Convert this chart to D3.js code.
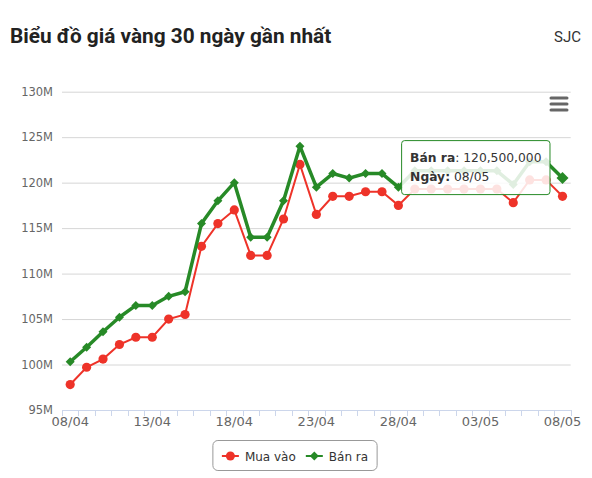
<!DOCTYPE html>
<html>
<head>
<meta charset="utf-8">
<script src="https://cdn.jsdelivr.net/npm/d3@7/dist/d3.min.js"></script>
<style>
  body { margin: 0; background: #fff; }
  svg text { font-family: "DejaVu Sans", Verdana, sans-serif; }
</style>
</head>
<body>
<svg id="chart" width="592" height="478"></svg>
<script>
// gia vang SJC, trieu dong / luong
var dates = ["08/04","09/04","10/04","11/04","12/04","13/04","14/04","15/04","16/04","17/04",
             "18/04","19/04","20/04","21/04","22/04","23/04","24/04","25/04","26/04","27/04",
             "28/04","29/04","30/04","01/05","02/05","03/05","04/05","05/05","06/05","07/05","08/05"];
var buyPrices = [97.8, 99.7, 100.6, 102.2, 103, 103, 105, 105.5, 113, 115.5,
                 117, 112, 112, 116, 122, 116.5, 118.5, 118.5, 119, 119,
                 117.5, 119.3, 119.3, 119.3, 119.3, 119.3, 119.3, 117.8, 120.3, 120.3, 118.5];
var sellPrices = [100.3, 101.9, 103.6, 105.2, 106.5, 106.5, 107.5, 108, 115.5, 118,
                  120, 114, 114, 118, 124, 119.5, 121, 120.5, 121, 121,
                  119.5, 121.3, 121.3, 121.3, 121.3, 121.3, 121.3, 119.8, 122.3, 122.3, 120.5];
var yTicks = [95, 100, 105, 110, 115, 120, 125, 130];
var labelStep = 5;
var seriesNames = ["Mua vào", "Bán ra"];
var seriesColors = ["#ee3329", "#278a27"];
var hoverIndex = 30; // diem dang hover (Ban ra)

var svg = d3.select("#chart");

var plot = {left: 62, right: 570.7, top: 91.7, bottom: 410};

var x = d3.scalePoint()
    .domain(dates)
    .range([plot.left, plot.right])
    .padding(0.5);

var y = d3.scaleLinear()
    .domain([95, 130])
    .range([plot.bottom, plot.top]);

// title
svg.append("text")
    .attr("x", 10)
    .attr("y", 43)
    .style("font-family", "Roboto, sans-serif")
    .style("font-weight", "bold")
    .style("font-size", "20.8px")
    .attr("fill", "#222")
    .text("Biểu đồ giá vàng 30 ngày gần nhất");

svg.append("text")
    .attr("x", 581)
    .attr("y", 42)
    .attr("text-anchor", "end")
    .style("font-family", "Roboto, sans-serif")
    .style("font-size", "15px")
    .attr("fill", "#333")
    .text("SJC");

// grid + y labels
var yAxis = d3.axisLeft(y)
    .tickValues(yTicks)
    .tickSize(-(plot.right - plot.left))
    .tickPadding(9)
    .tickFormat(function(d) { return d + "M"; });

var gy = svg.append("g")
    .attr("transform", "translate(" + plot.left + ",0)")
    .call(yAxis);
gy.select(".domain").remove();
gy.selectAll(".tick line").attr("stroke", "#d6d6d6");
gy.selectAll(".tick text")
    .attr("fill", "#666")
    .style("font-size", "11.5px");

// x axis, ticks between categories
var step = x.step();
var gx = svg.append("g");
gx.append("line")
    .attr("x1", plot.left).attr("x2", plot.right)
    .attr("y1", plot.bottom + 0.5).attr("y2", plot.bottom + 0.5)
    .attr("stroke", "#ccd6eb");
gx.selectAll(".xtick")
    .data(d3.range(dates.length + 1))
    .enter().append("line")
    .attr("class", "xtick")
    .attr("x1", function(i) { return Math.round(plot.left + i * step) + 0.5; })
    .attr("x2", function(i) { return Math.round(plot.left + i * step) + 0.5; })
    .attr("y1", plot.bottom)
    .attr("y2", plot.bottom + 6)
    .attr("stroke", "#ccd6eb");
gx.selectAll(".xlabel")
    .data(dates.filter(function(d, i) { return i % labelStep === 0; }))
    .enter().append("text")
    .attr("class", "xlabel")
    .attr("x", function(d) { return x(d); })
    .attr("y", 426)
    .attr("text-anchor", "middle")
    .attr("fill", "#666")
    .style("font-size", "13px")
    .text(function(d) { return d; });

// series
var line = function(values) {
    return d3.line()
        .x(function(v, i) { return x(dates[i]); })
        .y(function(v) { return y(v); })(values);
};

function diamond(cx, cy, r) {
    return "M" + cx + "," + (cy - r) + "L" + (cx + r) + "," + cy +
           "L" + cx + "," + (cy + r) + "L" + (cx - r) + "," + cy + "Z";
}

svg.append("path")
    .attr("d", line(buyPrices))
    .attr("fill", "none")
    .attr("stroke", seriesColors[0])
    .attr("stroke-width", 2);

svg.selectAll(".buy-dot")
    .data(buyPrices)
    .enter().append("circle")
    .attr("class", "buy-dot")
    .attr("cx", function(v, i) { return x(dates[i]); })
    .attr("cy", function(v) { return y(v); })
    .attr("r", 4.6)
    .attr("fill", seriesColors[0]);

svg.append("path")
    .attr("d", line(sellPrices))
    .attr("fill", "none")
    .attr("stroke", seriesColors[1])
    .attr("stroke-width", 3.5)
    .attr("stroke-linejoin", "round");

svg.selectAll(".sell-dot")
    .data(sellPrices)
    .enter().append("path")
    .attr("class", "sell-dot")
    .attr("d", function(v, i) {
        return diamond(x(dates[i]), y(v), i === hoverIndex ? 6 : 4.5);
    })
    .attr("fill", seriesColors[1]);

// hamburger menu
var menu = svg.append("g").attr("stroke", "#666").attr("stroke-width", 3).attr("stroke-linecap", "round");
[98, 104, 110].forEach(function(yy) {
    menu.append("line").attr("x1", 551).attr("x2", 567).attr("y1", yy).attr("y2", yy);
});

// tooltip
var tipX = x(dates[hoverIndex]), tipY = y(sellPrices[hoverIndex]);
var tip = svg.append("g");
var tipRect = tip.append("rect")
    .attr("rx", 3)
    .attr("fill", "rgba(255,255,255,0.86)")
    .attr("stroke", seriesColors[1])
    .attr("stroke-width", 1);
var t1 = tip.append("text").style("font-size", "12.3px").attr("fill", "#333");
t1.append("tspan").style("font-weight", "bold").text(seriesNames[1]);
t1.append("tspan").text(": " + d3.format(",")(Math.round(sellPrices[hoverIndex] * 1e6)));
var t2 = tip.append("text").style("font-size", "12.3px").attr("fill", "#333");
t2.append("tspan").style("font-weight", "bold").text("Ngày:");
t2.append("tspan").text(" " + dates[hoverIndex]);

var tw = Math.max(t1.node().getComputedTextLength(), t2.node().getComputedTextLength()) + 17;
var tx = tipX - 12.5 - tw, ty = tipY - 37.5;
tipRect.attr("x", tx).attr("y", ty).attr("width", tw).attr("height", 54);
t1.attr("x", tx + 8.5).attr("y", ty + 21.5);
t2.attr("x", tx + 8.5).attr("y", ty + 40);

// legend
var legend = svg.append("g");
var legendBox = legend.append("rect")
    .attr("y", 440.5).attr("height", 30).attr("rx", 5)
    .attr("fill", "#fff").attr("stroke", "#999");
var lx = 0;
seriesNames.forEach(function(name, k) {
    var g = legend.append("g");
    g.append("line")
        .attr("x1", lx).attr("x2", lx + 17)
        .attr("y1", 456).attr("y2", 456)
        .attr("stroke", seriesColors[k]).attr("stroke-width", 2);
    if (k === 0) {
        g.append("circle").attr("cx", lx + 8.5).attr("cy", 456).attr("r", 4.5).attr("fill", seriesColors[k]);
    } else {
        g.append("path").attr("d", diamond(lx + 8.5, 456, 4.5)).attr("fill", seriesColors[k]);
    }
    var txt = g.append("text")
        .attr("x", lx + 23).attr("y", 460.5)
        .style("font-size", "12px")
        .attr("fill", "#333")
        .text(name);
    lx += 23 + txt.node().getComputedTextLength() + 10;
});
var lw = lx - 10 + 18;
var lstart = 295 - lw / 2;
legendBox.attr("x", lstart).attr("width", lw);
legend.selectAll("g").attr("transform", "translate(" + (lstart + 9) + ",0)");
</script>
</body>
</html>
